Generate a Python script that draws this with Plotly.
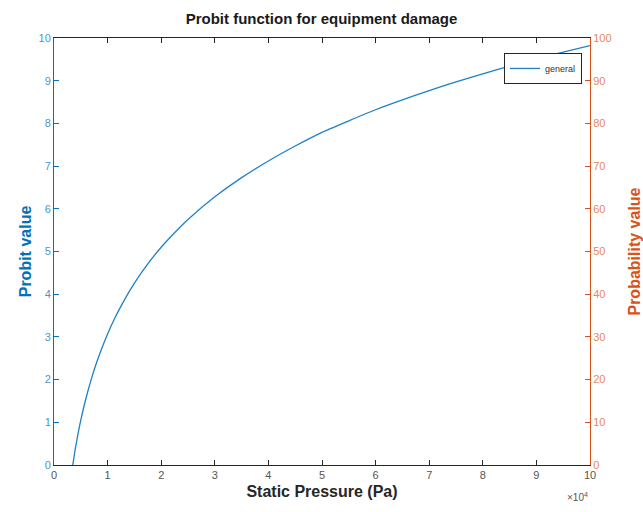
import plotly.graph_objects as go

pressure_pa = [3500, 3700, 4000, 4500, 5000, 6000, 7000, 8000, 9000, 10000, 11000,
               12500, 15000, 17500, 20000, 22500, 25000, 30000, 35000, 40000, 45000,
               50000, 55000, 60000, 65000, 70000, 75000, 80000, 85000, 90000,
               95000, 100000]
probit = [0.0, 0.16, 0.40, 0.74, 1.05, 1.58, 2.03, 2.42, 2.76, 3.07, 3.35,
          3.72, 4.26, 4.71, 5.10, 5.44, 5.75, 6.28, 6.73, 7.12, 7.47,
          7.79, 8.06, 8.32, 8.55, 8.77, 8.97, 9.16, 9.34, 9.51,
          9.67, 9.82]
x_tick_vals = [0, 10000, 20000, 30000, 40000, 50000, 60000, 70000, 80000, 90000, 100000]
x_tick_text = ["0", "1", "2", "3", "4", "5", "6", "7", "8", "9", "10"]
y_ticks = [0, 1, 2, 3, 4, 5, 6, 7, 8, 9, 10]
y2_ticks = [0, 10, 20, 30, 40, 50, 60, 70, 80, 90, 100]

BLUE = "#0072BD"
ORANGE = "#D95319"
FONT = "Liberation Sans, Arial, Helvetica, sans-serif"

fig = go.Figure()
fig.add_trace(go.Scatter(x=pressure_pa, y=probit, mode="lines", name="general",
                         line=dict(color="#1f80c8", width=1.3, shape="spline", smoothing=0.6)))
fig.add_trace(go.Scatter(x=[0], y=[0], yaxis="y2", showlegend=False,
                         mode="markers", marker=dict(opacity=0), hoverinfo="skip"))

fig.update_layout(
    width=643, height=512,
    margin=dict(l=54, r=53, t=38, b=47),
    paper_bgcolor="white", plot_bgcolor="white",
    font=dict(family=FONT, size=11, color="#262626"),
    title=dict(text="<b>Probit function for equipment damage</b>", x=0.5, xanchor="center",
               y=0.964, yanchor="middle", font=dict(size=15, color="#1a1a1a", family=FONT)),
    xaxis=dict(range=[0, 100000], tickvals=x_tick_vals, ticktext=x_tick_text,
               ticks="inside", ticklen=5, tickcolor="#262626", showline=True,
               linecolor="#262626", linewidth=1, mirror="ticks", showgrid=False,
               zeroline=False, tickfont=dict(size=11, color="#555555"), automargin=False,
               title=dict(text="<b>Static Pressure (Pa)</b>", standoff=5,
                          font=dict(size=16, color="#262626"))),
    yaxis=dict(range=[0, 10], tickvals=y_ticks, ticks="inside", ticklen=5,
               tickcolor=BLUE, showline=True, linecolor=BLUE, linewidth=1,
               showgrid=False, zeroline=False, tickfont=dict(size=11, color="#4a96d4"),
               automargin=False,
               title=dict(text="<b>Probit value</b>", standoff=2,
                          font=dict(size=16, color=BLUE))),
    yaxis2=dict(range=[0, 100], tickvals=y2_ticks, ticks="inside", ticklen=5,
                tickcolor=ORANGE, showline=True, linecolor=ORANGE, linewidth=1,
                overlaying="y", side="right", showgrid=False, zeroline=False,
                tickfont=dict(size=11, color="#e8875a"), automargin=False,
                title=dict(text="<b>Probability value</b>", standoff=20,
                           font=dict(size=16, color=ORANGE))),
    legend=dict(x=0.985, y=0.965, xanchor="right", yanchor="top",
                bordercolor="#262626", borderwidth=1, bgcolor="white",
                font=dict(size=9, color="#333333"), itemwidth=30,
                tracegroupgap=0),
    showlegend=True,
)
fig.add_annotation(text="×10<sup>4</sup>", xref="paper", yref="paper", x=1.0, y=-0.075,
                   xanchor="right", yanchor="middle", showarrow=False,
                   font=dict(size=10, color="#555555"))

fig.write_html("out.html")
